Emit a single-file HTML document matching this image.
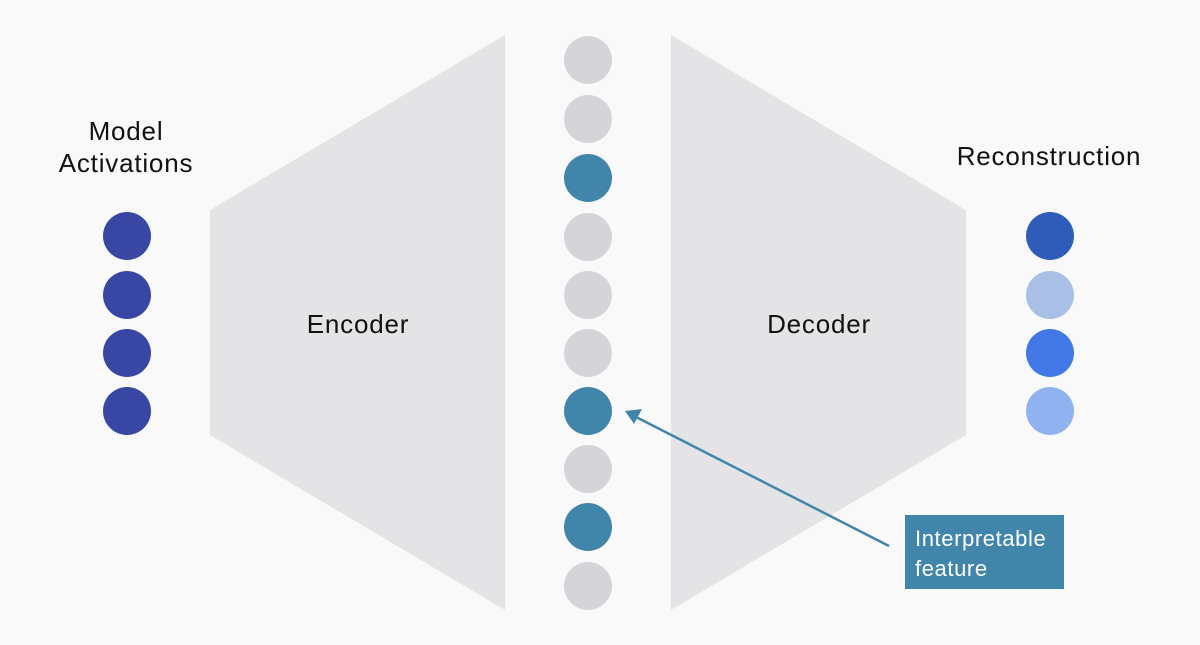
<!DOCTYPE html>
<html><head><style>body{margin:0;background:#f9f9f9}svg{display:block}text{font-family:"Liberation Sans",sans-serif}</style></head>
<body>
<svg width="1200" height="645" viewBox="0 0 1200 645">
<rect width="1200" height="645" fill="#f9f9f9"/>
<polygon points="210,210 505,35 505,610 210,435" fill="#e4e4e6"/>
<polygon points="671,35 966,210 966,435 671,610" fill="#e4e4e6"/>
<g fill="#d5d5d9">
<circle cx="588" cy="60" r="24"/><circle cx="588" cy="119" r="24"/>
<circle cx="588" cy="237" r="24"/><circle cx="588" cy="295" r="24"/><circle cx="588" cy="353" r="24"/>
<circle cx="588" cy="469" r="24"/><circle cx="588" cy="586" r="24"/>
</g>
<g fill="#4185aa">
<circle cx="588" cy="178" r="24"/><circle cx="588" cy="411" r="24"/><circle cx="588" cy="527" r="24"/>
</g>
<g fill="#3747a3">
<circle cx="127" cy="236" r="24"/><circle cx="127" cy="295" r="24"/><circle cx="127" cy="353" r="24"/><circle cx="127" cy="411" r="24"/>
</g>
<circle cx="1050" cy="236" r="24" fill="#2e5cb8"/>
<circle cx="1050" cy="295" r="24" fill="#aabfe6"/>
<circle cx="1050" cy="353" r="24" fill="#4178e6"/>
<circle cx="1050" cy="411" r="24" fill="#91b2f0"/>
<line x1="889" y1="546" x2="636" y2="417" stroke="#4185aa" stroke-width="2.5"/>
<polygon points="625,411 642,409 634,424" fill="#4185aa"/>
<rect x="905" y="515" width="159" height="74" fill="#4185aa"/>
<text x="915" y="546" font-size="22" letter-spacing="0.6" fill="#fff">Interpretable</text>
<text x="915" y="576" font-size="22" letter-spacing="0.6" fill="#fff">feature</text>
<g font-size="26" letter-spacing="0.8" text-anchor="middle" fill="#111">
<text x="126" y="140">Model</text>
<text x="126" y="172">Activations</text>
<text x="1049" y="165">Reconstruction</text>
<text x="358" y="333">Encoder</text>
<text x="819" y="333">Decoder</text>
</g>
</svg>
</body></html>
